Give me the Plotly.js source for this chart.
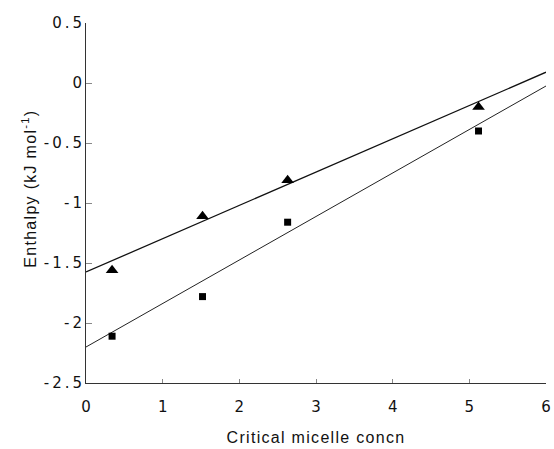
<!DOCTYPE html>
<html>
<head>
<meta charset="utf-8">
<script src="https://cdn.plot.ly/plotly-3.0.1.min.js"></script>
<style>
html,body{margin:0;padding:0;background:#fff;}
#chart{width:554px;height:449px;}
.ytick text{letter-spacing:3px;}
.g-xtitle text,.g-ytitle text{letter-spacing:1.3px;}
</style>
</head>
<body>
<div id="chart"></div>
<script>
// Data
const cmc = [0.34, 1.52, 2.63, 5.12];
const enthalpyTriangle = [-1.56, -1.11, -0.81, -0.2];
const enthalpySquare = [-2.11, -1.78, -1.16, -0.4];
const fitX = [0, 6];
const fitTriangle = [-1.575, 0.09];
const fitSquare = [-2.2, -0.025];
const xTicks = [0, 1, 2, 3, 4, 5, 6];
const yTicks = [-2.5, -2, -1.5, -1, -0.5, 0, 0.5];
const yTickText = ['-2.5', '-2', '-1.5', '-1', '-0.5', '0', '0.5'];

const traces = [
  {x: fitX, y: fitTriangle, mode: 'lines', line: {color: '#111', width: 1.3}, hoverinfo: 'skip'},
  {x: fitX, y: fitSquare, mode: 'lines', line: {color: '#222', width: 1}, hoverinfo: 'skip'},
  {x: cmc, y: enthalpyTriangle, mode: 'markers', marker: {symbol: 'triangle-up', size: 11, color: '#000'}},
  {x: cmc, y: enthalpySquare, mode: 'markers', marker: {symbol: 'square', size: 7, color: '#000'}}
];

const font = {family: 'Liberation Sans, Arial, sans-serif', size: 16, color: '#111'};
const tickFont = {family: 'DejaVu Sans, sans-serif', size: 15, color: '#111'};

const layout = {
  width: 554, height: 449,
  margin: {l: 86, r: 8, t: 23, b: 66},
  paper_bgcolor: '#fff', plot_bgcolor: '#fff',
  showlegend: false,
  font: font,
  xaxis: {
    range: [0, 6], tickvals: xTicks, ticktext: xTicks.map(String),
    showgrid: false, zeroline: false, showline: true, linecolor: '#333', linewidth: 1,
    ticks: 'inside', ticklen: 4, tickcolor: '#888',
    tickfont: tickFont, ticklabelstandoff: 10,
    title: {text: 'Critical micelle concn', font: font, standoff: 16}
  },
  yaxis: {
    range: [-2.5, 0.5], tickvals: yTicks, ticktext: yTickText,
    showgrid: false, zeroline: false, showline: true, linecolor: '#333', linewidth: 1,
    ticks: 'inside', ticklen: 6, tickcolor: '#888',
    tickfont: tickFont, ticklabelstandoff: -3,
    title: {text: '&nbsp;&nbsp;&nbsp;&nbsp;&nbsp;Enthalpy (kJ mol<sup>-1</sup>)', font: font, standoff: 3}
  }
};

Plotly.newPlot('chart', traces, layout, {displayModeBar: false, staticPlot: true});
</script>
</body>
</html>
